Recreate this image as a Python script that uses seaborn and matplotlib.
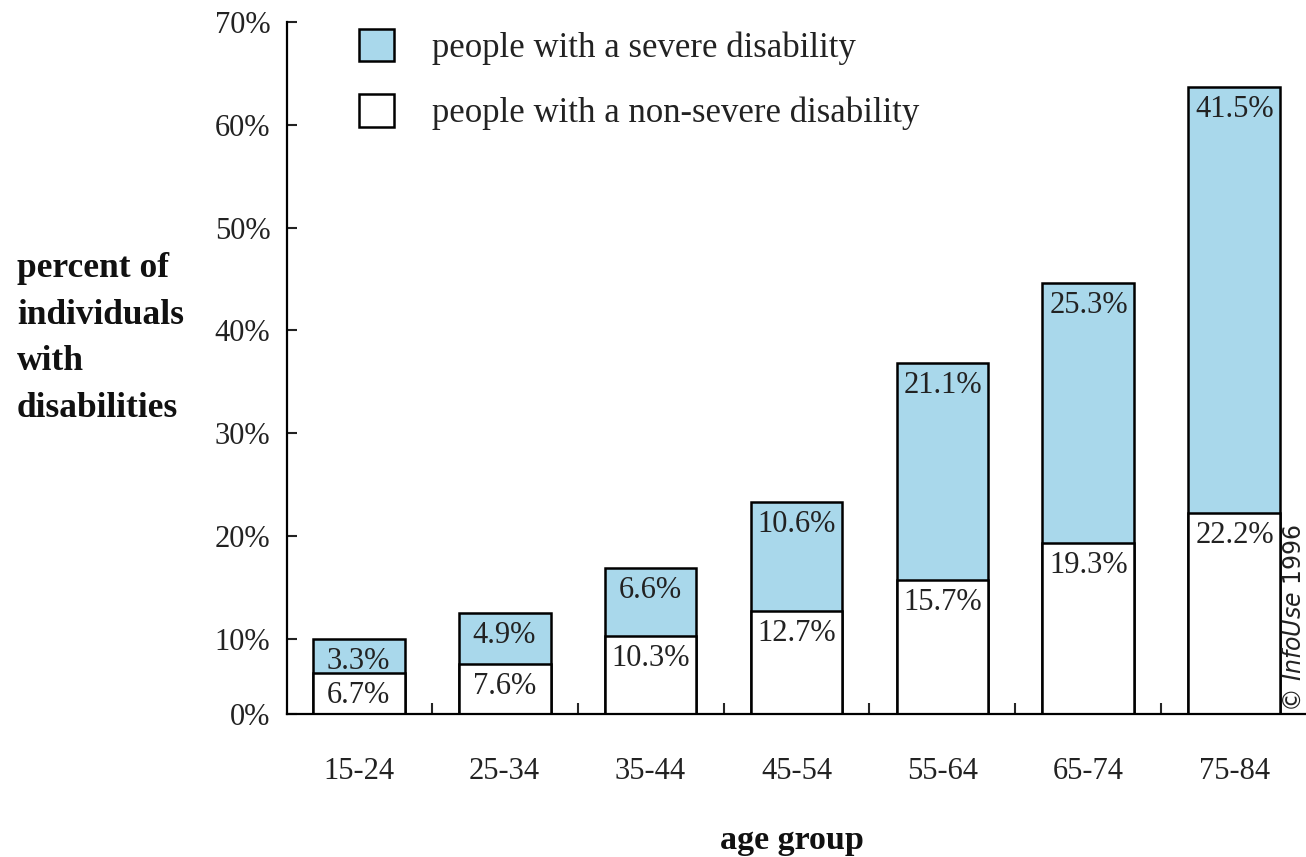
import matplotlib
matplotlib.use("Agg")
import matplotlib.pyplot as plt
from matplotlib.patches import Patch
from matplotlib.ticker import FixedLocator
import numpy as np
import pandas as pd
import seaborn as sns

# Share of people with disabilities by age group (percent)
age_groups = ["15-24", "25-34", "35-44", "45-54", "55-64", "65-74", "75-84"]
non_severe = [6.7, 7.6, 10.3, 12.7, 15.7, 19.3, 22.2]
severe = [3.3, 4.9, 6.6, 10.6, 21.1, 25.3, 41.5]
y_tick_values = [10, 20, 30, 40, 50, 60, 70]
y_axis_floor = 2.7  # x-axis baseline sits slightly above zero; it is labelled 0%

BLUE = "#a9d8eb"
SERIF = "Liberation Serif"

sns.set_theme(style="white")
plt.rcParams["font.family"] = [SERIF, "DejaVu Serif"]
plt.rcParams["mathtext.fontset"] = "dejavusans"

df = pd.DataFrame({
    "age": age_groups,
    "non_severe": non_severe,
    "severe": severe,
})
df["total"] = df["non_severe"] + df["severe"]

fig = plt.figure(figsize=(13.06, 8.57), dpi=100)
ax = fig.add_axes([287 / 1306, 143 / 857, 1 - 287 / 1306, (714 - 22) / 857])

bar_kw = dict(width=0.63, edgecolor="black", linewidth=1.8, saturation=1, ax=ax)
sns.barplot(data=df, x="age", y="total", color=BLUE, **bar_kw)
sns.barplot(data=df, x="age", y="non_severe", color="white", **bar_kw)

# value labels at the top of each segment
for i, row in df.iterrows():
    ax.annotate(f"{row['severe']:.1f}%", (i, row["total"]), xytext=(0, -8),
                textcoords="offset pixels", ha="center", va="top",
                fontsize=22, color="#222222")
    ax.annotate(f"{row['non_severe']:.1f}%", (i, row["non_severe"]), xytext=(0, -8),
                textcoords="offset pixels", ha="center", va="top",
                fontsize=22, color="#222222")

ax.set_xlim(-0.49, 6.49)
ax.set_ylim(y_axis_floor, 70)

ax.set_yticks([y_axis_floor] + y_tick_values)
ax.set_yticklabels(["0%"] + [f"{v}%" for v in y_tick_values])
ax.tick_params(axis="y", direction="in", length=7, width=1.5, pad=12,
               labelsize=22, colors="#222222", left=True)

ax.xaxis.set_minor_locator(FixedLocator(np.arange(0.5, len(age_groups) - 1, 1.0)))
ax.tick_params(axis="x", which="major", length=0, pad=31, labelsize=22,
               colors="#222222")
ax.tick_params(axis="x", which="minor", direction="in", length=8, width=1.5,
               bottom=True)

for side in ["top", "right"]:
    ax.spines[side].set_visible(False)
for side in ["left", "bottom"]:
    ax.spines[side].set_linewidth(1.6)
    ax.spines[side].set_color("black")

ax.set_xlabel("")
ax.set_ylabel("")

fig.text(17 / 1306, (857 - 252) / 857,
         "percent of\nindividuals\nwith\ndisabilities",
         ha="left", va="top", fontsize=25.5, fontweight="bold",
         linespacing=1.55, color="#111111")
fig.text(792 / 1306, (857 - 840) / 857, "age group", ha="center", va="center",
         fontsize=24.5, fontweight="bold", color="#111111")

fig.text(1294 / 1306, (857 - 712) / 857, r"© $\mathit{InfoUse}$ 1996",
         rotation=90, ha="center", va="bottom", fontsize=17,
         family="DejaVu Sans", color="#222222")

handles = [
    Patch(facecolor=BLUE, edgecolor="black", linewidth=1.8,
          label="people with a severe disability"),
    Patch(facecolor="white", edgecolor="black", linewidth=1.8,
          label="people with a non-severe disability"),
]
ax.legend(handles=handles, loc="upper left", bbox_to_anchor=(352 / 1306, 1 - 22 / 857),
          bbox_transform=fig.transFigure, frameon=False, fontsize=25,
          handlelength=1.0, handleheight=1.05, handletextpad=1.1,
          labelspacing=0.85, borderaxespad=0, borderpad=0.2,
          labelcolor="#222222")

fig.savefig("out.png", dpi=100)
